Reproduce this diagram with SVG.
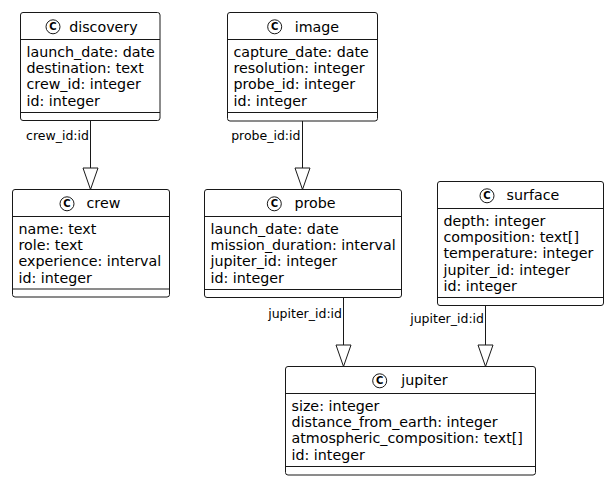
<svg xmlns="http://www.w3.org/2000/svg" width="609" height="481" viewBox="0 0 609 481">
<style>
.box{fill:#ffffff;stroke:#181818;stroke-width:1}
.sep{stroke:#181818;stroke-width:1}
.icon{fill:#ffffff;stroke:#181818;stroke-width:1}
.ic{font-family:"DejaVu Sans",sans-serif;font-size:10px;font-weight:bold;fill:#000;text-anchor:middle}
.name{font-family:"DejaVu Sans",sans-serif;font-size:14.25px;fill:#000}
.f{font-family:"DejaVu Sans",sans-serif;font-size:14.25px;fill:#000}
.lbl{font-family:"DejaVu Sans",sans-serif;font-size:12.5px;fill:#000;text-anchor:end}
.edge{stroke:#181818;stroke-width:1;fill:none}
.head{fill:#ffffff;stroke:#181818;stroke-width:1}
</style>
<rect width="609" height="481" fill="#ffffff"/>
<g id="connectors">
<line class="edge" x1="90.5" y1="120.5" x2="90.5" y2="168"/>
<polygon class="head" points="83,168 98,168 90.5,189.5"/>
<text class="lbl" x="89" y="140">crew_id:id</text>
<line class="edge" x1="302.5" y1="121" x2="302.5" y2="168"/>
<polygon class="head" points="295,168 310,168 302.5,189.5"/>
<text class="lbl" x="300.5" y="140">probe_id:id</text>
<line class="edge" x1="343.5" y1="297.5" x2="343.5" y2="345"/>
<polygon class="head" points="336,345 351,345 343.5,366.5"/>
<text class="lbl" x="342" y="317.5">jupiter_id:id</text>
<line class="edge" x1="485.5" y1="305.5" x2="485.5" y2="345"/>
<polygon class="head" points="478,345 493,345 485.5,366.5"/>
<text class="lbl" x="484" y="322.5">jupiter_id:id</text>
</g>
<g id="discovery">
<rect class="box" x="20.5" y="12.5" width="139.5" height="108" rx="2.5"/>
<line class="sep" x1="20.5" y1="39.5" x2="160" y2="39.5"/>
<line class="sep" x1="20.5" y1="112.5" x2="160" y2="112.5"/>
<circle class="icon" cx="53" cy="26.8" r="7"/>
<text class="ic" x="53" y="30.4">C</text>
<text class="name" x="69.2" y="31.5">discovery</text>
<text class="f" x="26.5" y="56.8">launch_date: date</text>
<text class="f" x="26.5" y="73.1">destination: text</text>
<text class="f" x="26.5" y="89.4">crew_id: integer</text>
<text class="f" x="26.5" y="105.7">id: integer</text>
</g>
<g id="image">
<rect class="box" x="227.5" y="12.5" width="150" height="108.5" rx="2.5"/>
<line class="sep" x1="227.5" y1="39.5" x2="377.5" y2="39.5"/>
<line class="sep" x1="227.5" y1="112.5" x2="377.5" y2="112.5"/>
<circle class="icon" cx="274.7" cy="26.8" r="7"/>
<text class="ic" x="274.7" y="30.4">C</text>
<text class="name" x="294.7" y="31.5">image</text>
<text class="f" x="233.5" y="56.8">capture_date: date</text>
<text class="f" x="233.5" y="73.1">resolution: integer</text>
<text class="f" x="233.5" y="89.4">probe_id: integer</text>
<text class="f" x="233.5" y="105.7">id: integer</text>
</g>
<g id="crew">
<rect class="box" x="12.5" y="189.5" width="157" height="107.5" rx="2.5"/>
<line class="sep" x1="12.5" y1="216.5" x2="169.5" y2="216.5"/>
<line class="sep" x1="12.5" y1="289" x2="169.5" y2="289"/>
<circle class="icon" cx="67" cy="203.8" r="7"/>
<text class="ic" x="67" y="207.4">C</text>
<text class="name" x="86.5" y="208">crew</text>
<text class="f" x="18.5" y="233.8">name: text</text>
<text class="f" x="18.5" y="250.1">role: text</text>
<text class="f" x="18.5" y="266.4">experience: interval</text>
<text class="f" x="18.5" y="282.7">id: integer</text>
</g>
<g id="probe">
<rect class="box" x="204.5" y="189.5" width="197" height="108" rx="2.5"/>
<line class="sep" x1="204.5" y1="216.5" x2="401.5" y2="216.5"/>
<line class="sep" x1="204.5" y1="289.5" x2="401.5" y2="289.5"/>
<circle class="icon" cx="274.3" cy="203.8" r="7"/>
<text class="ic" x="274.3" y="207.4">C</text>
<text class="name" x="294.4" y="208">probe</text>
<text class="f" x="210.5" y="233.8">launch_date: date</text>
<text class="f" x="210.5" y="250.1">mission_duration: interval</text>
<text class="f" x="210.5" y="266.4">jupiter_id: integer</text>
<text class="f" x="210.5" y="282.7">id: integer</text>
</g>
<g id="surface">
<rect class="box" x="437.5" y="181.5" width="166" height="124" rx="2.5"/>
<line class="sep" x1="437.5" y1="208.5" x2="603.5" y2="208.5"/>
<line class="sep" x1="437.5" y1="297.5" x2="603.5" y2="297.5"/>
<circle class="icon" cx="487" cy="195.8" r="7"/>
<text class="ic" x="487" y="199.4">C</text>
<text class="name" x="506.6" y="200">surface</text>
<text class="f" x="443.5" y="225.8">depth: integer</text>
<text class="f" x="443.5" y="242.1">composition: text[]</text>
<text class="f" x="443.5" y="258.4">temperature: integer</text>
<text class="f" x="443.5" y="274.7">jupiter_id: integer</text>
<text class="f" x="443.5" y="291">id: integer</text>
</g>
<g id="jupiter">
<rect class="box" x="285.5" y="366.5" width="250" height="108.5" rx="2.5"/>
<line class="sep" x1="285.5" y1="393.5" x2="535.5" y2="393.5"/>
<line class="sep" x1="285.5" y1="466.5" x2="535.5" y2="466.5"/>
<circle class="icon" cx="379.7" cy="380.8" r="7"/>
<text class="ic" x="379.7" y="384.4">C</text>
<text class="name" x="401.3" y="385">jupiter</text>
<text class="f" x="291.5" y="410.8">size: integer</text>
<text class="f" x="291.5" y="427.1">distance_from_earth: integer</text>
<text class="f" x="291.5" y="443.4">atmospheric_composition: text[]</text>
<text class="f" x="291.5" y="459.7">id: integer</text>
</g>
</svg>
